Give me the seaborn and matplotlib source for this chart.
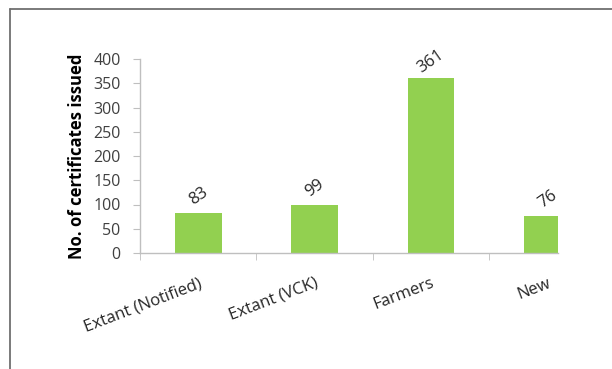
import matplotlib
matplotlib.use("Agg")
import matplotlib.pyplot as plt
import seaborn as sns
import pandas as pd
from matplotlib.lines import Line2D

categories = ["Extant (Notified)", "Extant (VCK)", "Farmers", "New"]
values = [83, 99, 361, 76]
yticks = [0, 50, 100, 150, 200, 250, 300, 350, 400]

sns.set_style("white")
plt.rcParams['font.family'] = ['Open Sans', 'DejaVu Sans']

df = pd.DataFrame({"cat": categories, "val": values})

fig = plt.figure(figsize=(6.12, 3.69), dpi=100)
ax = fig.add_axes([140/612, 1-253/369, (558-140)/612, (253-59)/369])
sns.barplot(data=df, x="cat", y="val", color="#92D050", width=0.4,
            saturation=1, ax=ax, edgecolor="none")
ax.set_xlim(-0.5, 3.09)
ax.set_ylim(0, 400)
ax.set_yticks(yticks)
ax.set_yticklabels([str(t) for t in yticks], fontsize=11.5, color="#404040")
ax.set_xlabel("")
ax.set_ylabel("No. of certificates issued", fontsize=12, fontweight="bold",
              color="black", labelpad=5)

# x ticks at category boundaries
ax.set_xticks([-0.5, 0.5, 1.5, 2.5], minor=True)
ax.tick_params(axis="x", which="minor", length=5, color="#BFBFBF", direction="out", bottom=True)
ax.tick_params(axis="x", which="major", length=0, pad=16)
ax.tick_params(axis="y", length=5, color="#BFBFBF", direction="out", left=True, pad=9)
ax.set_xticks(range(len(categories)))
ax.set_xticklabels(categories, rotation=21, ha="right", rotation_mode="anchor",
                   fontsize=12, color="#262626")

for side in ["top", "right"]:
    ax.spines[side].set_visible(False)
for side in ["left", "bottom"]:
    ax.spines[side].set_color("#BFBFBF")
    ax.spines[side].set_linewidth(1)

for i, v in enumerate(values):
    ax.annotate(str(v), (i, v), xytext=(0, 12), textcoords="offset points",
                ha="center", va="center", rotation=35, fontsize=12,
                color="#262626", annotation_clip=False)

# outer frame lines
fig.add_artist(Line2D([10/612, 1], [1-9/369, 1-9/369], color="#6F6F6F", lw=1.3))
fig.add_artist(Line2D([10/612, 10/612], [0, 1-9/369], color="#6F6F6F", lw=1.3))

fig.savefig("out.png", dpi=100)
